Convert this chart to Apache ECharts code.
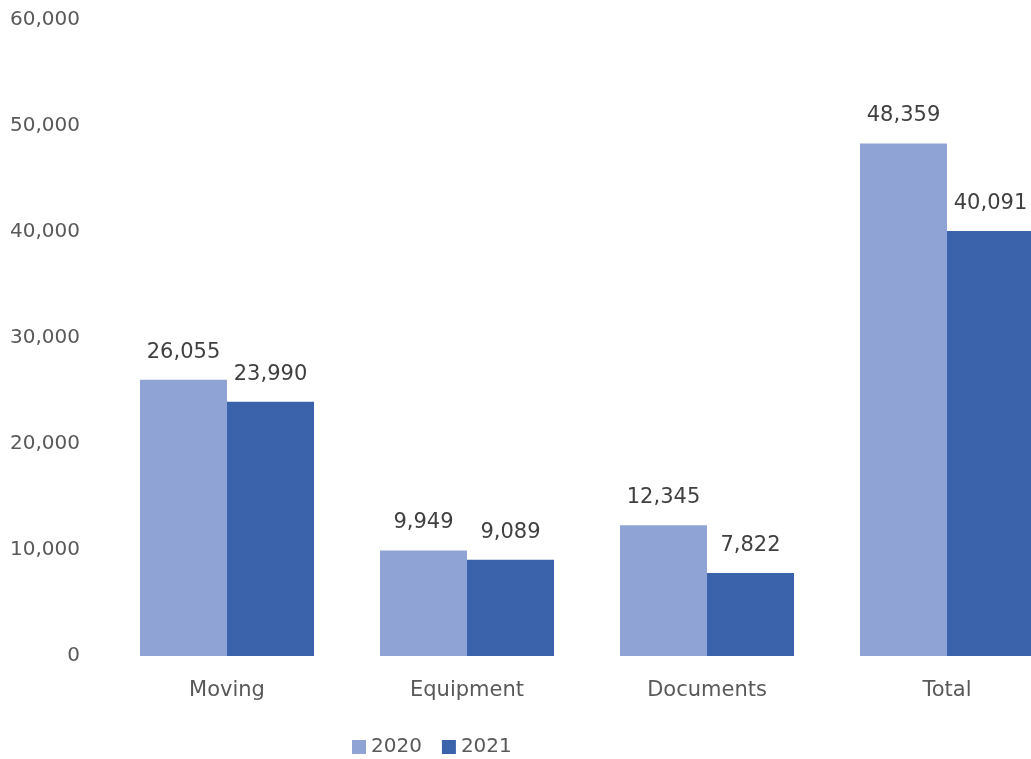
<!DOCTYPE html>
<html><head><meta charset="utf-8">
<script src="https://cdn.jsdelivr.net/npm/echarts@6/dist/echarts.min.js"></script>
<style>html,body{margin:0;padding:0;background:#fff;overflow:hidden;width:1031px;height:759px}#c{width:1067px;height:759px}</style>
</head><body><div id="c"></div>
<script>
const categories = ['Moving', 'Equipment', 'Documents', 'Total'];
const values2020 = [26055, 9949, 12345, 48359];
const values2021 = [23990, 9089, 7822, 40091];
const seriesNames = ['2020', '2021'];
const fmt = v => v.toLocaleString('en-US');
const chart = echarts.init(document.getElementById('c'));
const font = '"DejaVu Sans", sans-serif';
const lbl = {show: true, position: 'top', distance: 17, color: '#404040', fontSize: 21, fontFamily: font,
  formatter: p => fmt(p.value)};
chart.setOption({
  animation: false,
  grid: {left: 107, right: 0, top: 20, bottom: 103, containLabel: false},
  legend: {bottom: -3, left: 347, itemWidth: 14, itemHeight: 14, itemGap: 20, icon: 'rect',
    textStyle: {color: '#595959', fontSize: 20, fontFamily: font}},
  xAxis: {type: 'category', data: categories, axisLine: {show: false}, axisTick: {show: false},
    axisLabel: {color: '#595959', fontSize: 21, fontFamily: font, margin: 24}},
  yAxis: {type: 'value', min: 0, max: 60000, interval: 10000, splitLine: {show: false},
    axisLine: {show: false}, axisTick: {show: false},
    axisLabel: {color: '#595959', fontSize: 20, fontFamily: font, margin: 27, formatter: v => fmt(v)}},
  series: [
    {name: seriesNames[0], type: 'bar', data: values2020, itemStyle: {color: '#8FA4D5'},
      barGap: '0%', barCategoryGap: '27.5%', label: lbl},
    {name: seriesNames[1], type: 'bar', data: values2021, itemStyle: {color: '#3B63AC'},
      barGap: '0%', barCategoryGap: '27.5%', label: lbl}
  ]
});
</script></body></html>
